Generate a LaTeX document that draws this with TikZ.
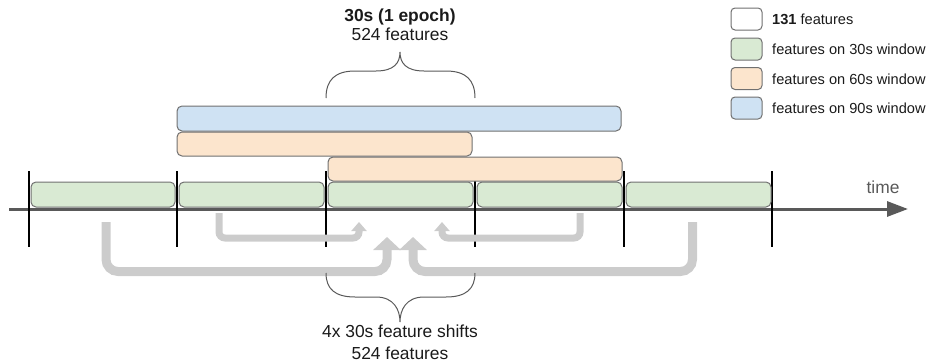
\documentclass[tikz,border=0pt]{standalone}
\usepackage{fontspec}
\setmainfont{Liberation Sans}
\usetikzlibrary{arrows.meta}
\definecolor{gfill}{HTML}{D9EAD3}
\definecolor{ofill}{HTML}{FCE5CD}
\definecolor{bfill}{HTML}{CFE2F3}
\definecolor{edgec}{HTML}{707070}
\definecolor{axisc}{HTML}{595959}
\definecolor{shiftc}{HTML}{CCCCCC}
\definecolor{txtc}{HTML}{1A1A1A}
\begin{document}
\begin{tikzpicture}[x=1pt,y=-1pt,
  bar/.style={draw=edgec, line width=1pt, rounded corners=5pt, inner sep=0pt, minimum height=25pt},
  legbox/.style={draw=edgec, line width=1pt, rounded corners=4pt, inner sep=0pt, minimum width=31pt, minimum height=22pt},
  ticklne/.style={line width=2pt, black},
  smallshift/.style={shiftc, line width=7pt, rounded corners=6pt, -{Triangle[length=9pt,width=15pt]}},
  bigshift/.style={shiftc, line width=9pt, rounded corners=12pt, -{Triangle[length=13pt,width=27pt]}},
  bracec/.style={axisc, line width=1pt},
  lab/.style={inner sep=0pt, text=txtc, font=\fontsize{17.4}{20}\selectfont, anchor=base},
  legtxt/.style={inner sep=0pt, text=txtc, font=\fontsize{14.6}{17}\selectfont, anchor=base west}
]
\useasboundingbox (0,0) rectangle (930,364);

% axis
\coordinate (ax0) at (9,209);
\coordinate (ax1) at (908,209);
\draw[axisc, line width=3pt, -{Triangle[length=21pt,width=15pt]}] (ax0) -- (ax1);
\node[lab, text=axisc] (time) at (883,193) {time};

% ticks
\foreach \i/\x in {1/29,2/177,3/326,4/475,5/624,6/772}{
  \coordinate (ta\i) at (\x,171);
  \coordinate (tb\i) at (\x,247);
  \draw[ticklne] (ta\i) -- (tb\i);
}

% 30s windows
\node[bar, fill=gfill, minimum width=144pt] (g1) at (103,194.5) {};
\node[bar, fill=gfill, minimum width=145pt] (g2) at (251.5,194.5) {};
\node[bar, fill=gfill, minimum width=145pt] (g3) at (400.5,194.5) {};
\node[bar, fill=gfill, minimum width=145pt] (g4) at (549.5,194.5) {};
\node[bar, fill=gfill, minimum width=145pt] (g5) at (698.5,194.5) {};

% 60s windows
\node[bar, fill=ofill, minimum width=295pt, minimum height=24pt] (o1) at (324.5,144) {};
\node[bar, fill=ofill, minimum width=294pt, minimum height=24pt] (o2) at (475,169) {};

% 90s window
\node[bar, fill=bfill, minimum width=444pt] (b1) at (399,118.5) {};

% shift arrows
\coordinate (a1s) at (219,213); \coordinate (a1c) at (219,238); \coordinate (a1d) at (359,238); \coordinate (a1e) at (359,222);
\draw[smallshift] (a1s) -- (a1c) -- (a1d) -- (a1e);
\coordinate (a4s) at (580,213); \coordinate (a4c) at (580,238); \coordinate (a4d) at (442,238); \coordinate (a4e) at (442,222);
\draw[smallshift] (a4s) -- (a4c) -- (a4d) -- (a4e);
\coordinate (a2s) at (106,222); \coordinate (a2c) at (106,271.5); \coordinate (a2d) at (387,271.5); \coordinate (a2e) at (387,237);
\draw[bigshift] (a2s) -- (a2c) -- (a2d) -- (a2e);
\coordinate (a3s) at (692.5,222); \coordinate (a3c) at (692.5,271.5); \coordinate (a3d) at (413,271.5); \coordinate (a3e) at (413,237);
\draw[bigshift] (a3s) -- (a3c) -- (a3d) -- (a3e);

% top brace
\draw[bracec] (326,98) .. controls (326,80) and (335,71) .. (355,71) -- (376,71)
  .. controls (394,71) and (400,63) .. (400,52)
  .. controls (400,63) and (406,71) .. (424,71) -- (446,71)
  .. controls (466,71) and (475,80) .. (475,98);
\node[lab, font=\fontsize{17.4}{20}\selectfont\bfseries] (ep) at (400,21) {30s (1 epoch)};
\node[lab] (ep2) at (400,40) {524 features};

% bottom brace
\draw[bracec] (326,273) .. controls (326,289) and (335,297) .. (355,297) -- (376,297)
  .. controls (394,297) and (400,310) .. (400,322)
  .. controls (400,310) and (406,297) .. (424,297) -- (446,297)
  .. controls (466,297) and (475,289) .. (475,273);
\node[lab] (sh) at (400,337) {4x 30s feature shifts};
\node[lab] (sh2) at (400,359) {524 features};

% legend
\node[legbox, fill=white] (l1) at (746.5,19) {};
\node[legbox, fill=gfill] (l2) at (746.5,49) {};
\node[legbox, fill=ofill] (l3) at (746.5,78.5) {};
\node[legbox, fill=bfill] (l4) at (746.5,108) {};
\node[legtxt] (lt1) at (772,24.5) {\textbf{131} features};
\node[legtxt] (lt2) at (772,54) {features on 30s window};
\node[legtxt] (lt3) at (772,84) {features on 60s window};
\node[legtxt] (lt4) at (772,113) {features on 90s window};
\end{tikzpicture}
\end{document}
